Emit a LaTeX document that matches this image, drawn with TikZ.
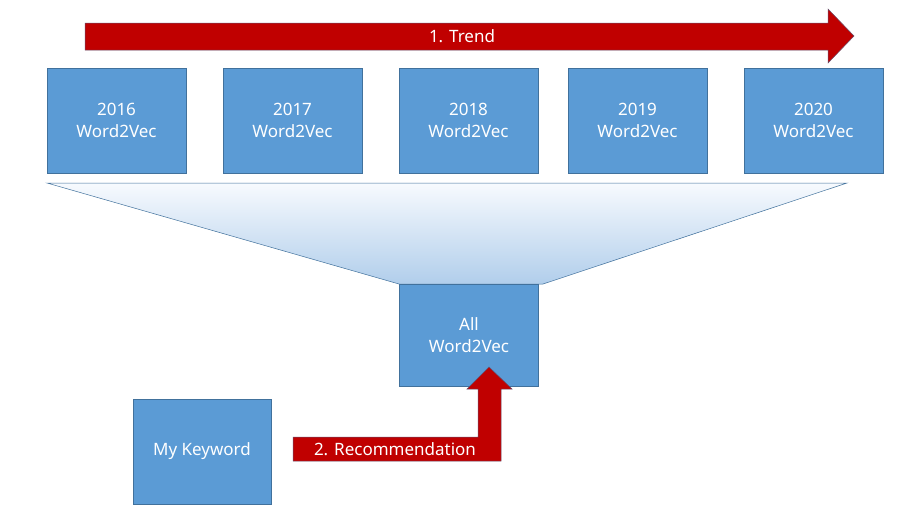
\documentclass[tikz,border=0pt]{standalone}
\usepackage{fontspec}
\setmainfont{Noto Sans}
\definecolor{boxblue}{HTML}{5B9BD5}
\definecolor{boxline}{HTML}{41719C}
\definecolor{arrowred}{HTML}{C00000}
\definecolor{funneltop}{HTML}{F7FAFE}
\definecolor{funnelbot}{HTML}{B1CEEB}
\tikzset{
  yearbox/.style={draw=boxline, fill=boxblue, text=white, align=center,
    minimum width=139pt, minimum height=105pt, inner sep=0pt,
    font=\fontsize{17}{22}\selectfont},
  redarrow/.style={draw=boxline!70!arrowred, line width=0.5pt, fill=arrowred},
  arrowtext/.style={text=white, font=\fontsize{17}{22}\selectfont}
}
\begin{document}
\begin{tikzpicture}[x=1pt,y=-1pt]
\useasboundingbox (0,0) rectangle (905,517);
% trend arrow
\draw[redarrow] (85,23)--(828,23)--(828,9)--(854,36)--(828,63)--(828,50)--(85,50)--cycle;
\node[arrowtext] (trend) at (462,36) {1. Trend};
% yearly models
\foreach \yr/\cx in {2016/116.5, 2017/292.5, 2018/468.5, 2019/637.5, 2020/813.5}
  \node[yearbox] (y\yr) at (\cx,120.5) {\yr\\Word2Vec};
% funnel
\draw[boxline, line width=0.5pt, top color=funneltop, bottom color=funnelbot]
  (47,183)--(847,183)--(543,284)--(399,284)--cycle;
\node[yearbox, minimum height=102pt] (all) at (469,335.5) {All\\Word2Vec};
\node[yearbox, minimum width=138pt] (key) at (202,451.5) {My Keyword};
% recommendation arrow
\draw[redarrow] (293,437)--(478,437)--(478,389)--(467,389)--(489,367)--(512,389)
  --(501,389)--(501,461)--(293,461)--cycle;
\node[arrowtext] (rec) at (395,449) {2. Recommendation};
\end{tikzpicture}
\end{document}
